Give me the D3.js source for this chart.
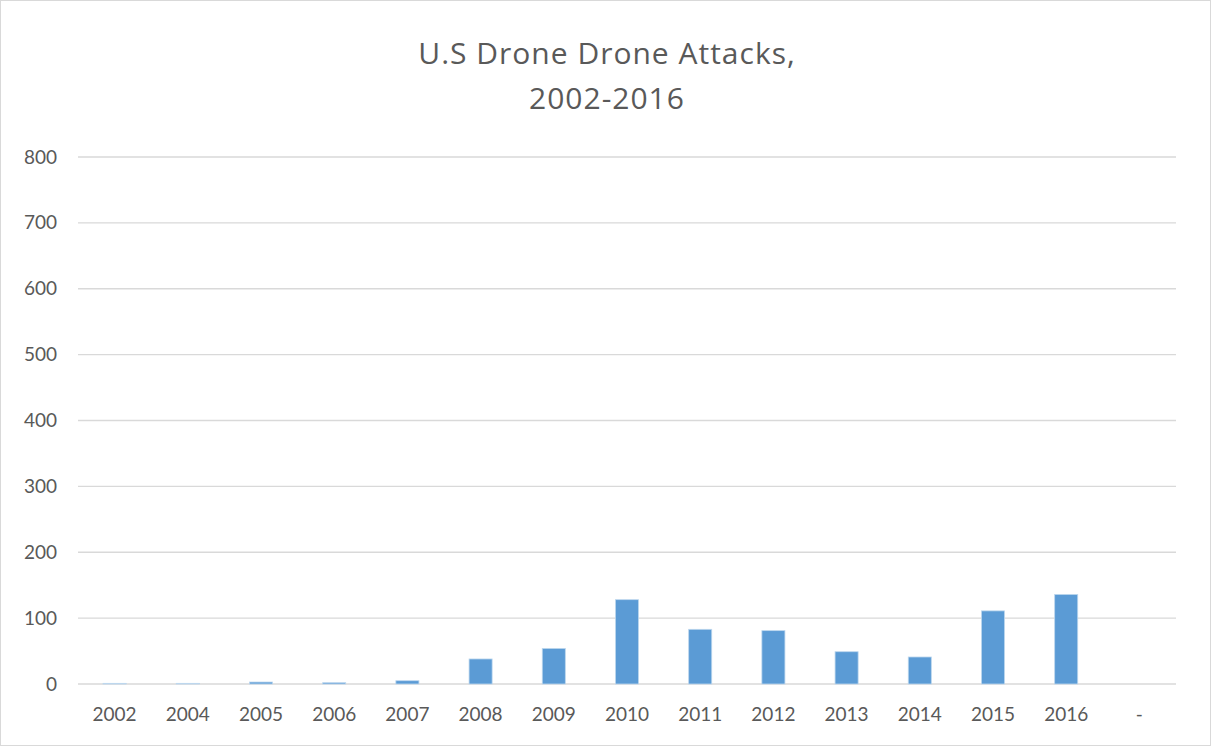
<!DOCTYPE html>
<html>
<head>
<meta charset="utf-8">
<script src="https://cdn.jsdelivr.net/npm/d3@7"></script>
<style>
  html, body { margin: 0; padding: 0; background: #fff; }
  svg { display: block; }
  text { font-family: Lato, "Open Sans", sans-serif; fill: #595959; }
  .title { font-family: "Open Sans", Lato, sans-serif; letter-spacing: 1px; }
</style>
</head>
<body>
<svg id="chart" width="1212" height="747"></svg>
<script>
// Yearly counts of U.S. drone strikes
const years = ["2002", "2004", "2005", "2006", "2007", "2008", "2009", "2010", "2011", "2012", "2013", "2014", "2015", "2016", "-"];
const attacks = [1, 1, 3, 2, 5, 38, 54, 128, 83, 81, 49, 41, 111, 136, 0];
const yTicks = [0, 100, 200, 300, 400, 500, 600, 700, 800];
const titleLines = ["U.S Drone Drone Attacks,", "2002-2016"];

const svg = d3.select("#chart");
const W = 1212, H = 747;
const margin = { left: 78, right: 36, top: 157, bottom: 63 };

// Chart frame
svg.append("rect")
  .attr("x", 0.5).attr("y", 0.5)
  .attr("width", W - 2).attr("height", H - 2)
  .attr("fill", "#fff").attr("stroke", "#D9D9D9");

const x = d3.scaleBand()
  .domain(years)
  .range([margin.left, W - margin.right])
  .paddingInner(0.685).paddingOuter(0.3425);

const y = d3.scaleLinear()
  .domain([0, 800])
  .range([H - margin.bottom, margin.top]);

// Horizontal gridlines
svg.append("g")
  .selectAll("line")
  .data(yTicks)
  .join("line")
  .attr("x1", margin.left).attr("x2", W - margin.right)
  .attr("y1", d => y(d)).attr("y2", d => y(d))
  .attr("stroke", "#D9D9D9").attr("stroke-width", 1.3);

// Y axis labels
const yAxis = d3.axisLeft(y).tickValues(yTicks).tickSize(0).tickPadding(21);
svg.append("g")
  .attr("transform", `translate(${margin.left},0)`)
  .call(yAxis)
  .call(g => g.select(".domain").remove())
  .selectAll("text")
  .style("font-size", "19px")
  .attr("fill", "#595959");

// Bars
svg.append("g")
  .selectAll("rect")
  .data(years.map((yr, i) => ({ yr, v: attacks[i] })))
  .join("rect")
  .attr("x", d => x(d.yr))
  .attr("width", x.bandwidth())
  .attr("y", d => y(d.v))
  .attr("height", d => y(0) - y(d.v))
  .attr("fill", "#5B9BD5")
  .attr("stroke", "#BDD7EE")
  .attr("stroke-width", 0.8);

// X axis labels
const xAxis = d3.axisBottom(x).tickSize(0).tickPadding(24);
svg.append("g")
  .attr("transform", `translate(0,${y(0)})`)
  .call(xAxis)
  .call(g => g.select(".domain").remove())
  .selectAll("text")
  .style("font-size", "19px")
  .attr("fill", "#595959");

// Title
svg.append("g")
  .selectAll("text")
  .data(titleLines)
  .join("text")
  .attr("class", "title")
  .attr("x", 607)
  .attr("y", (d, i) => 64 + i * 45)
  .attr("text-anchor", "middle")
  .style("font-size", "30px")
  .text(d => d);
</script>
</body>
</html>
